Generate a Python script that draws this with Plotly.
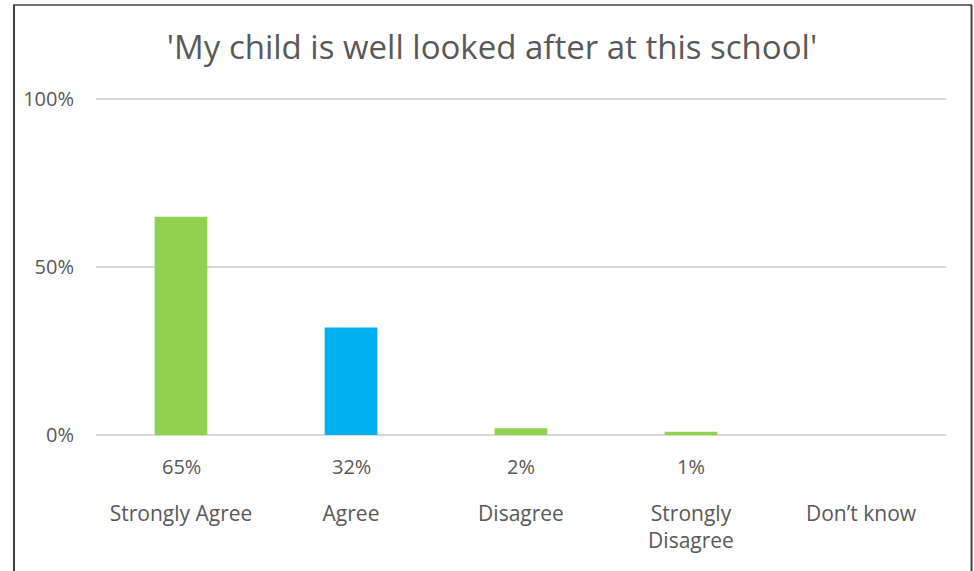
import plotly.graph_objects as go

categories = ["Strongly Agree", "Agree", "Disagree", "Strongly Disagree", "Don’t know"]
tick_labels = ["Strongly Agree", "Agree", "Disagree", "Strongly<br>Disagree", "Don’t know"]
values = [65, 32, 2, 1, 0]
value_labels = ["65%", "32%", "2%", "1%", ""]
bar_colors = ["#92D050", "#00B0F0", "#92D050", "#92D050", "#92D050"]
title_text = "'My child is well looked after at this school'"

FONT = "Open Sans"
GREY = "#595959"

fig = go.Figure()
fig.add_trace(go.Bar(
    x=categories, y=values, marker=dict(color=bar_colors, line=dict(width=0)),
    width=0.31, hoverinfo="skip",
))

annotations = []
for c, lab in zip(categories, value_labels):
    annotations.append(dict(
        x=c, y=0, xref="x", yref="paper", yshift=-31, text=lab, showarrow=False,
        font=dict(family=FONT, size=20, color=GREY), yanchor="middle",
    ))

W, H = 974, 571
ml, mr, mt, mb = 96, 28, 96, 136
pw, ph = W - ml - mr, H - mt - mb
def px(x):
    return (x - ml) / pw
def py(y):
    return (H - mb - y) / ph

shapes = [
    dict(type="line", xref="paper", yref="paper", x0=px(14), x1=px(14), y0=py(5), y1=py(580),
         line=dict(color="#404040", width=2)),
    dict(type="line", xref="paper", yref="paper", x0=px(13), x1=px(972), y0=py(5), y1=py(5),
         line=dict(color="#404040", width=1.5)),
    dict(type="line", xref="paper", yref="paper", x0=px(971.5), x1=px(971.5), y0=py(5), y1=py(580),
         line=dict(color="#404040", width=2)),
]

fig.update_layout(
    width=W, height=H,
    margin=dict(l=ml, r=mr, t=mt, b=mb),
    paper_bgcolor="white", plot_bgcolor="white",
    title=dict(text=title_text, x=492 / W, xref="container", xanchor="center",
               y=1 - 47 / H, yref="container", yanchor="middle",
               font=dict(family=FONT, size=33, color=GREY)),
    showlegend=False,
    bargap=0.69,
    annotations=annotations,
    shapes=shapes,
    font=dict(family=FONT, color=GREY),
)
fig.update_xaxes(
    tickmode="array", tickvals=categories, ticktext=tick_labels,
    tickfont=dict(family=FONT, size=21, color=GREY),
    showgrid=False, showline=False, ticks="", ticklabelstandoff=64,
    zeroline=False,
)
fig.update_yaxes(
    range=[0, 101], tickvals=[0, 50, 100], ticktext=["0%", "50%", "100%"],
    tickfont=dict(family=FONT, size=20, color=GREY),
    showgrid=True, gridcolor="#D9D9D9", gridwidth=1.5,
    zeroline=True, zerolinecolor="#D9D9D9", zerolinewidth=1.5,
    showline=False, ticks="", ticklabelstandoff=21,
)

fig.write_html("out.html", config={"displayModeBar": False},
               post_script="document.body.style.margin='0';")
